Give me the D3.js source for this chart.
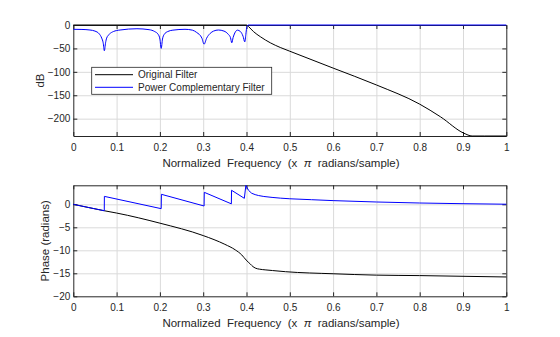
<!DOCTYPE html>
<html>
<head>
<meta charset="utf-8">
<script src="https://cdn.jsdelivr.net/npm/d3@7"></script>
<style>
    body { margin: 0; background: #fff; }
    svg { font-family: "Liberation Sans", Arial, Helvetica, sans-serif; }
    .grid line { stroke: #dadada; }
    .grid path { display: none; }
    .axis path, .axis line { stroke: #262626; }
    .axis text { fill: #262626; font-size: 10px; }
</style>
</head>
<body>
<svg id="chart"></svg>
<script>
// x ticks (normalized frequency)
const freqTicks = [0, 0.1, 0.2, 0.3, 0.4, 0.5, 0.6, 0.7, 0.8, 0.9, 1];
const dbTicks = [0, -50, -100, -150, -200];
const phaseTicks = [0, -5, -10, -15, -20];

// Original filter magnitude (dB)
const origMagF  = [0, 0.2, 0.4, 0.405, 0.416, 0.432, 0.455, 0.478, 0.5, 0.6, 0.7, 0.8, 0.848, 0.902, 0.921, 0.95, 1];
const origMagDb = [0, 0, 0, -3.6, -14, -25, -38, -48, -56, -92, -128, -169, -196, -231, -237, -237, -237];

// Power complementary filter magnitude (dB)
const compMagF  = [0, 0.02, 0.0385, 0.05, 0.06, 0.0656, 0.069, 0.0717, 0.0745, 0.077, 0.084, 0.0925, 0.108, 0.147,
                   0.175, 0.188, 0.196, 0.2, 0.203, 0.206, 0.21, 0.218, 0.23, 0.258,
                   0.275, 0.285, 0.297, 0.302, 0.308, 0.316, 0.324, 0.335,
                   0.348, 0.358, 0.363, 0.366, 0.369, 0.373, 0.379,
                   0.386, 0.392, 0.396, 0.3985, 0.401, 0.404, 0.6, 1];
const compMagDb = [-9.2, -9.5, -10.7, -13, -19, -28, -38, -55, -38, -28, -19, -14, -10.7, -8,
                   -10, -14, -20, -30, -50, -30, -20, -14, -11, -9.2,
                   -11, -16, -28, -41, -28, -18, -13, -10.7,
                   -13, -20, -27, -38, -27, -17, -11,
                   -14, -24, -36, -20, -3, 0, 0, 0];

// Phase (radians)
const origPhaseF = [0, 0.0715, 0.1, 0.2, 0.3, 0.35, 0.374, 0.389, 0.399, 0.409, 0.415, 0.42, 0.43, 0.443, 0.46, 0.49, 0.6, 0.7, 0.8, 0.9, 1];
const origPhase  = [0, -1.4, -1.9, -4.1, -6.8, -8.7, -9.9, -11, -12.1, -13.0, -13.55, -13.85, -14.1, -14.25, -14.4, -14.65, -15.1, -15.4, -15.5, -15.65, -15.8];

const compPhaseF = [0, 0.0715, 0.0718, 0.203, 0.2035, 0.302, 0.3025, 0.365, 0.3655, 0.395, 0.3985,
                    0.405, 0.412, 0.42, 0.428, 0.44, 0.459, 0.478, 0.5, 0.55, 0.6, 0.7, 0.8, 0.9, 1];
const compPhase  = [0, -1.4, 1.72, -0.95, 2.17, -0.37, 2.6, 0.1, 3.05, 1.3, 4.1,
                    3.0, 2.4, 2.1, 1.9, 1.7, 1.5, 1.34, 1.2, 1.0, 0.8, 0.5, 0.28, 0.13, 0.02];

const seriesNames = ["Original Filter", "Power Complementary Filter"];
const seriesColors = ["#000000", "#0000ff"];

function drawCharts() {

    const W = 560, H = 337;
    const left = 73.3, right = 506.3;

    var svg = d3.select("#chart")
        .attr("width", W)
        .attr("height", H);

    var xScale = d3.scaleLinear().domain([0, 1]).range([0, right - left]);

    function drawPanel(top, bottom, yDomain, yTicks, yLabel, yLabelX, series) {
        const w = right - left, h = bottom - top;
        var yScale = d3.scaleLinear().domain(yDomain).range([h, 0]);

        var g = svg.append("g")
            .attr("transform", "translate(" + left + "," + top + ")");

        // grid
        g.append("g")
            .attr("class", "grid")
            .attr("transform", "translate(0," + h + ")")
            .call(d3.axisBottom(xScale).tickValues(freqTicks.slice(1, -1)).tickSize(-h).tickFormat(""));
        g.append("g")
            .attr("class", "grid")
            .call(d3.axisLeft(yScale).tickValues(yTicks.filter(v => v > yDomain[0] && v < yDomain[1])).tickSize(-w).tickFormat(""));

        // box + inward ticks
        g.append("g")
            .attr("class", "axis")
            .attr("transform", "translate(0," + h + ")")
            .call(d3.axisBottom(xScale).tickValues(freqTicks).tickSize(-4).tickSizeOuter(0).tickPadding(7.5)
                .tickFormat(d3.format("")));
        g.append("g")
            .attr("class", "axis")
            .call(d3.axisTop(xScale).tickValues(freqTicks).tickSize(-4).tickSizeOuter(0).tickFormat(""));
        g.append("g")
            .attr("class", "axis")
            .call(d3.axisLeft(yScale).tickValues(yTicks).tickSize(-4).tickSizeOuter(0).tickPadding(3));
        g.append("g")
            .attr("class", "axis")
            .attr("transform", "translate(" + w + ",0)")
            .call(d3.axisRight(yScale).tickValues(yTicks).tickSize(-4).tickSizeOuter(0).tickFormat(""));

        // data lines
        series.forEach((s) => {
            var pts = s.f.map((f, i) => [f, s.v[i]]);
            g.append("path")
                .datum(pts)
                .attr("fill", "none")
                .attr("stroke", s.color)
                .attr("stroke-width", 1)
                .attr("d", d3.line()
                    .x(d => xScale(d[0]))
                    .y(d => yScale(d[1]))
                    .curve(s.curve));
        });

        // axis labels
        var xl = g.append("text")
            .attr("x", 281 - left)
            .attr("y", h + 31)
            .attr("text-anchor", "middle")
            .style("white-space", "pre")
            .attr("font-size", "11.5px")
            .attr("fill", "#262626");
        xl.append("tspan").text("Normalized  Frequency  (x  ");
        xl.append("tspan").attr("font-style", "italic").text("\u03c0");
        xl.append("tspan").text("  radians/sample)");

        g.append("text")
            .attr("transform", "translate(" + (yLabelX - left) + "," + (h / 2) + ") rotate(-90)")
            .attr("text-anchor", "middle")
            .attr("dy", "0.35em")
            .attr("font-size", "11.5px")
            .attr("fill", "#262626")
            .text(yLabel);

        return g;
    }

    // magnitude panel
    var g1 = drawPanel(25, 136, [-237, 0], dbTicks, "dB", 40, [
        { f: origMagF, v: origMagDb, color: seriesColors[0], curve: d3.curveMonotoneX },
        { f: compMagF, v: compMagDb, color: seriesColors[1], curve: d3.curveMonotoneX }
    ]);

    // phase panel
    drawPanel(185.3, 296.3, [-20, 4.13], phaseTicks, "Phase (radians)", 45, [
        { f: origPhaseF, v: origPhase, color: seriesColors[0], curve: d3.curveMonotoneX },
        { f: compPhaseF, v: compPhase, color: seriesColors[1], curve: d3.curveLinear }
    ]);

    // legend
    var legend = g1.append("g")
        .attr("transform", "translate(" + (91.7 - left) + "," + (67.3 - 25) + ")");
    legend.append("rect")
        .attr("width", 180)
        .attr("height", 27)
        .attr("fill", "#fff")
        .attr("stroke", "#262626")
        .attr("stroke-width", 0.8);
    seriesNames.forEach((name, i) => {
        var yy = 7.4 + i * 12.6;
        legend.append("line")
            .attr("x1", 3.3).attr("x2", 41.3)
            .attr("y1", yy).attr("y2", yy)
            .attr("stroke", seriesColors[i]);
        legend.append("text")
            .attr("x", 46.3)
            .attr("y", yy)
            .attr("dy", "0.35em")
            .attr("font-size", "10px")
            .attr("fill", "#262626")
            .text(name);
    });
}

drawCharts()
</script>
</body>
</html>
